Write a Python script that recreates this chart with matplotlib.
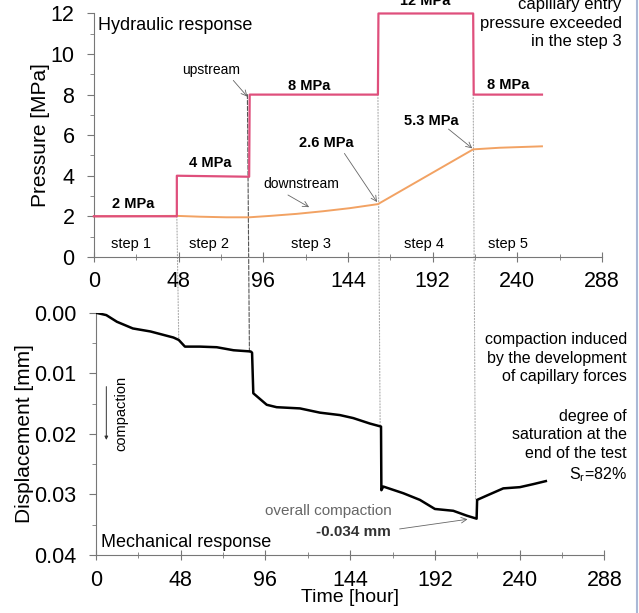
import matplotlib.pyplot as plt
from matplotlib.patches import ConnectionPatch
from matplotlib.lines import Line2D
from matplotlib.ticker import MultipleLocator

plt.rcParams['font.family'] = ['Liberation Sans', 'DejaVu Sans']
NARROW = ['Liberation Sans Narrow', 'Liberation Sans', 'DejaVu Sans']

# Hydraulic response: injection (upstream) and outflow (downstream) pressure
up_t = [0, 47, 47, 88, 88.3, 161, 161.3, 215, 215.3, 254]
up_p = [2.0, 2.0, 4.0, 3.95, 8.0, 8.0, 12.0, 12.0, 8.0, 8.0]
down_t = [0, 47, 60, 75, 88, 100, 115, 130, 145, 161, 175, 190, 205, 215, 230, 254]
down_p = [2.0, 2.02, 1.98, 1.95, 1.95, 2.02, 2.12, 2.25, 2.4, 2.6, 3.3, 4.05, 4.8, 5.3, 5.38, 5.45]

# Mechanical response: axial displacement
disp_t = [0, 6, 12, 21, 31, 44, 47, 50.5, 59, 68.5, 78, 87.7, 88.5, 89.2, 96.8,
          102.4, 115.6, 126.9, 138.2, 145.8, 155.2, 161.5, 161.7, 162.8, 174.1,
          183.5, 192, 202.4, 210, 215.6, 215.9, 221.3, 230.7, 240.1, 247.7, 254.8]
disp = [0.0, 0.0004, 0.0015, 0.0026, 0.0031, 0.0041, 0.0045, 0.0056, 0.0056,
        0.0057, 0.0062, 0.0064, 0.0066, 0.0133, 0.0152, 0.0156, 0.0158, 0.0165,
        0.0169, 0.0174, 0.0183, 0.0188, 0.0293, 0.0287, 0.0298, 0.0309, 0.0324,
        0.0327, 0.0335, 0.034, 0.0309, 0.0302, 0.0290, 0.0288, 0.0283, 0.0278]

step_labels = ['step 1', 'step 2', 'step 3', 'step 4', 'step 5']
step_x = [21, 65, 123, 187, 235]
press_labels = ['2 MPa', '4 MPa', '8 MPa', '12 MPa', '8 MPa']
press_x = [22, 66, 122, 188, 235]
press_y = [2.4, 4.45, 8.25, 12.4, 8.3]
time_ticks = [0, 48, 96, 144, 192, 240, 288]

UP_COLOR = '#df4f7c'
DOWN_COLOR = '#f2a263'

fig = plt.figure(figsize=(6.39, 6.13), dpi=100)
ax1 = fig.add_axes([0.147, 0.581, 0.795, 0.397])
ax2 = fig.add_axes([0.1498, 0.0946, 0.7962, 0.3953])

for ax in (ax1, ax2):
    ax.set_facecolor('none')
    for s in ('top', 'right'):
        ax.spines[s].set_visible(False)
    for s in ('left', 'bottom'):
        ax.spines[s].set_color('#777777')
    ax.set_xlim(0, 288)
    ax.set_xticks(time_ticks)
    ax.xaxis.set_minor_locator(MultipleLocator(24))
    ax.tick_params(axis='both', which='both', direction='inout', color='#777777',
                   labelsize=15.5)
    ax.tick_params(axis='x', which='major', length=7, pad=7)
    ax.tick_params(axis='x', which='minor', length=5)
    ax.tick_params(axis='y', which='major', direction='out', length=5, pad=9)
    ax.tick_params(axis='y', which='minor', direction='out', length=3)

# top panel
ax1.plot(up_t, up_p, color=UP_COLOR, lw=1.6, clip_on=False, zorder=3)
ax1.plot(down_t, down_p, color=DOWN_COLOR, lw=1.4, clip_on=False, zorder=2)
ax1.set_ylim(0, 12)
ax1.set_yticks(range(0, 13, 2))
ax1.yaxis.set_minor_locator(MultipleLocator(1))
ax1.set_ylabel('Pressure [MPa]', fontsize=15, labelpad=0)
ax1.text(2.5, 11.85, 'Hydraulic response', fontsize=13, va='top')

for lab, x, y in zip(press_labels, press_x, press_y):
    ax1.text(x, y, lab, fontsize=10.5, fontweight='bold', family=NARROW,
             ha='center', va='baseline', clip_on=False)
for lab, x in zip(step_labels, step_x):
    ax1.text(x, 0.45, lab, fontsize=10.5, family=NARROW, ha='center', va='baseline')

arrow = dict(arrowstyle='->', color='#666666', lw=0.6, shrinkA=0, shrinkB=0)
ax1.text(66.5, 9.0, 'upstream', fontsize=10, family=NARROW, ha='center', va='baseline')
ax1.annotate('', xy=(87, 7.9), xytext=(79, 8.7), arrowprops=arrow)
ax1.text(117.5, 3.4, 'downstream', fontsize=10, family=NARROW, ha='center', va='baseline')
ax1.annotate('', xy=(122, 2.45), xytext=(110, 3.05), arrowprops=arrow)
ax1.text(132, 5.43, '2.6 MPa', fontsize=10.5, fontweight='bold', family=NARROW,
         ha='center', va='baseline')
ax1.annotate('', xy=(160.5, 2.7), xytext=(142, 5.1), arrowprops=arrow)
ax1.text(191.5, 6.5, '5.3 MPa', fontsize=10.5, fontweight='bold', family=NARROW,
         ha='center', va='baseline')
ax1.annotate('', xy=(214.5, 5.35), xytext=(201, 6.3), arrowprops=arrow)

# bottom panel
ax2.plot(disp_t, disp, color='black', lw=1.8, zorder=3)
ax2.set_ylim(0.04, 0.0)
ax2.set_yticks([0.0, 0.01, 0.02, 0.03, 0.04])
ax2.set_yticklabels(['0.00', '0.01', '0.02', '0.03', '0.04'])
ax2.yaxis.set_minor_locator(MultipleLocator(0.005))
ax2.set_ylabel('Displacement [mm]', fontsize=15, labelpad=0)
ax2.set_xlabel('Time [hour]', fontsize=14, labelpad=-1)
ax2.text(3, 0.0386, 'Mechanical response', fontsize=13, va='baseline')

ax2.annotate('', xy=(6, 0.0210), xytext=(6, 0.0122),
             arrowprops=dict(arrowstyle='-|>', color='#333333', lw=0.7,
                             mutation_scale=5, shrinkA=0, shrinkB=0))
ax2.text(14.5, 0.0167, 'compaction', fontsize=10.5, family=NARROW,
         rotation=90, ha='center', va='center')
ax2.text(96, 0.0334, 'overall compaction', fontsize=11, family=NARROW,
         color='#666666', va='baseline')
ax2.text(167, 0.0369, '-0.034 mm', fontsize=11, fontweight='bold',
         family=NARROW, color='#333333', ha='right', va='baseline')
ax2.annotate('', xy=(210.5, 0.0341), xytext=(172, 0.0357), arrowprops=arrow)

# vertical guides crossing both panels at the pressure steps
guides = [(47, 2.0, 0.0045, ':', '#aaaaaa'), (87, 8.0, 0.0065, '--', '#555555'),
          (161, 8.0, 0.0188, ':', '#aaaaaa'), (215, 8.0, 0.0309, ':', '#aaaaaa')]
for t, p, d, ls, c in guides:
    con = ConnectionPatch(xyA=(t, p), coordsA=ax1.transData,
                          xyB=(t, d), coordsB=ax2.transData,
                          color=c, lw=0.8, linestyle=ls, zorder=-1)
    fig.add_artist(con)

fig.text(0.973, 1.005, 'capillary entry\npressure exceeded\nin the step 3',
         fontsize=12, ha='right', va='top', linespacing=1.3)
fig.text(0.981, 0.458, 'compaction induced\nby the development\nof capillary forces',
         fontsize=11.5, ha='right', va='top', linespacing=1.3)
fig.text(0.981, 0.333,
         'degree of\nsaturation at the\nend of the test\n$\\mathregular{S_r}$=82%',
         fontsize=11.5, ha='right', va='top', linespacing=1.3)

fig.add_artist(Line2D([0.997, 0.997], [0, 1], transform=fig.transFigure,
                      color='#a9b9d6', lw=1.5))

fig.savefig('out.png', dpi=100)
